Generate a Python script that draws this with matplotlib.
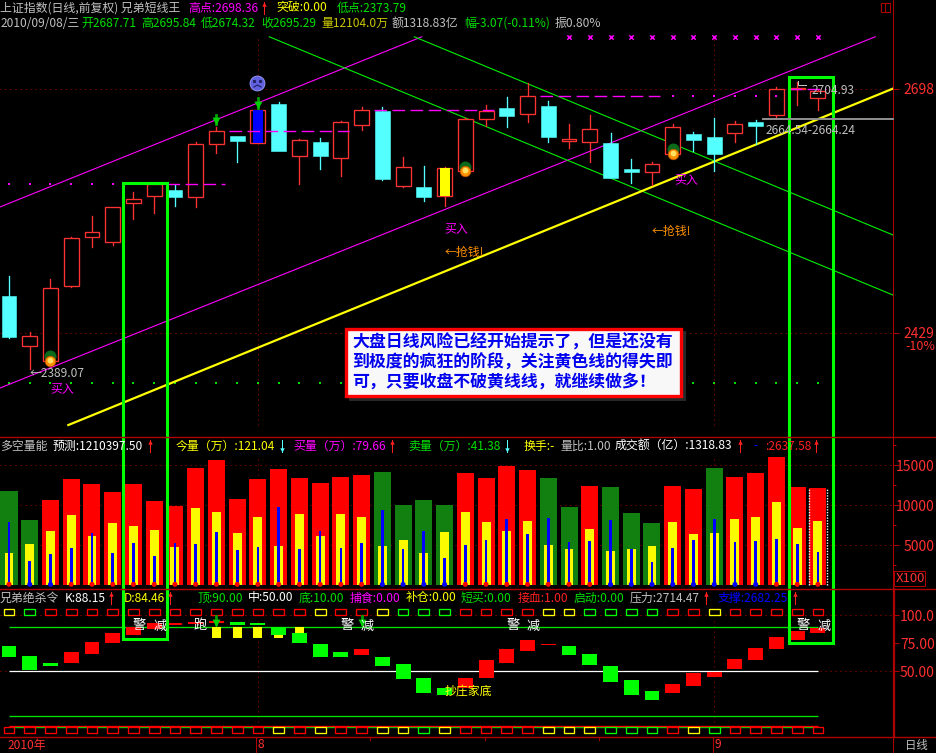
import matplotlib
matplotlib.use("Agg")
import matplotlib.pyplot as plt
from matplotlib.patches import Rectangle

plt.rcParams['font.family'] = ['Noto Sans CJK SC', 'DejaVu Sans']

# daily candles, 上证指数
opens = [2469.2, 2414.4, 2397.9, 2480.6, 2533.9, 2529.1, 2571.4, 2579.8, 2586.1, 2578.0,
         2637.1, 2645.6, 2638.2, 2680.9, 2623.9, 2639.0, 2621.7, 2657.8, 2673.5, 2590.8,
         2589.4, 2579.8, 2607.0, 2664.7, 2676.5, 2670.2, 2678.7, 2640.1, 2639.3, 2637.9,
         2609.2, 2606.3, 2625.8, 2647.8, 2644.5, 2649.0, 2661.1, 2669.1, 2697.4, 2687.71]
closes = [2424.4, 2424.8, 2477.7, 2532.8, 2539.4, 2567.0, 2575.8, 2592.4, 2578.7, 2636.5,
          2650.8, 2640.1, 2674.0, 2629.1, 2640.9, 2623.6, 2660.7, 2674.0, 2598.2, 2611.1,
          2578.4, 2610.0, 2664.0, 2673.5, 2667.7, 2689.4, 2644.5, 2642.0, 2653.0, 2599.3,
          2605.9, 2614.4, 2655.2, 2641.2, 2625.8, 2658.5, 2656.7, 2697.1, 2698.5, 2695.29]
highs = [2491.3, 2429.2, 2487.6, 2534.3, 2557.4, 2567.0, 2583.9, 2592.4, 2591.6, 2638.7,
         2655.9, 2645.6, 2674.0, 2683.1, 2642.3, 2643.4, 2662.2, 2677.6, 2677.6, 2622.5,
         2612.5, 2611.1, 2665.1, 2679.8, 2688.6, 2703.7, 2684.2, 2658.9, 2668.8, 2648.9,
         2620.3, 2617.0, 2658.9, 2650.0, 2665.5, 2662.2, 2663.3, 2699.6, 2704.93, 2695.84]
lows = [2423.3, 2389.07, 2397.0, 2479.5, 2523.6, 2525.5, 2554.1, 2560.4, 2568.8, 2567.7,
        2627.2, 2617.3, 2637.6, 2629.1, 2593.0, 2609.6, 2601.9, 2652.2, 2597.1, 2589.7,
        2574.0, 2568.5, 2606.0, 2656.7, 2655.6, 2661.1, 2639.0, 2632.4, 2617.0, 2599.3,
        2593.8, 2591.6, 2625.8, 2629.1, 2607.0, 2639.0, 2636.8, 2665.5, 2679.8, 2674.32]

# stop levels drawn as dashes / dots
level_runs = [(8, 10, 2592.4), (11, 16, 2650.8), (18, 23, 2674.0), (26, 31, 2689.4), (38, 39, 2698.0)]
level_dots = [(0, 7, 2592.4), (32, 37, 2689.4)]
low_line = 2373.79
cross_level = 2755.0
cross_bars = list(range(27, 40))
ball_bars = [2, 22, 32]
ball_prices = [2398, 2607, 2626]
arrow_bars = [10, 12]
blue_fill_bar = 12
yellow_fill_bar = 21

# trend lines (bar index, price)
yellow_line = ([2.86, 42.63], [2327, 2698])
magenta_up = ([-0.434, 19.9], [2567.4, 2755])
magenta_low = ([-0.434, 41.76], [2367.8, 2755])
green_a = ([12.55, 42.62], [2755, 2470.3])
green_b = ([19.54, 42.62], [2755, 2536.5])

# volume pane
vol_total = [11787, 8162, 10662, 13287, 12662, 11662, 12662, 10537, 9912, 14662,
             15662, 10787, 13287, 14537, 13412, 12787, 13537, 13787, 14162, 10037,
             10662, 10037, 14037, 13412, 14912, 14412, 13412, 9787, 12412, 12287,
             9037, 7787, 12412, 12037, 14662, 13537, 14037, 16037, 12287, 12104]
vol_colors = ['g', 'g', 'r', 'r', 'r', 'r', 'r', 'r', 'r', 'r',
              'r', 'r', 'r', 'r', 'r', 'r', 'r', 'r', 'g', 'g',
              'g', 'g', 'r', 'r', 'r', 'r', 'g', 'g', 'r', 'g',
              'g', 'g', 'r', 'r', 'g', 'r', 'r', 'r', 'r', 'r']
vol_buy = [4037, 5162, 6787, 8787, 6162, 7787, 7412, 6912, 4787, 9662,
           9162, 6537, 8537, 4912, 8912, 6162, 8912, 8537, 4912, 5662,
           4037, 6662, 9162, 7912, 6787, 8037, 5037, 4537, 7037, 4287,
           4537, 4912, 7912, 6412, 6537, 8287, 8537, 10412, 7162, 8037]
vol_sell = [7912, 3037, 3912, 4662, 6537, 4037, 5287, 3662, 5287, 5162,
            6662, 4412, 4787, 9787, 4537, 6787, 4662, 5287, 9412, 4537,
            6787, 3412, 5037, 5662, 8287, 6412, 8412, 5412, 5537, 8162,
            4537, 2912, 4662, 5662, 8287, 5412, 5537, 5787, 5162, 4162]
dot_colors = ['r', 'b', 'b', 'r', 'r', 'r', 'r', 'r', 'r', 'r',
              'r', 'r', 'r', 'r', 'r', 'r', 'r', 'r', 'b', 'b',
              'b', 'b', 'r', 'r', 'r', 'r', 'r', 'r', 'r', 'b',
              'b', 'b', 'b', 'b', 'b', 'b', 'b', 'r', 'r', 'r']

# KD pane, floating bars
kd_top = [72.6, 63.7, 57.4, 67.2, 76.2, 84.2, 89.6, 93.1, 93.1, 94.0,
          94.9, 94.0, 93.1, 89.6, 84.2, 74.4, 67.2, 69.9, 62.8, 56.5,
          44.0, 35.1, 44.0, 60.1, 69.9, 77.9, 74.4, 72.6, 65.4, 54.7,
          42.2, 32.4, 38.7, 48.5, 49.4, 61.0, 70.8, 80.6, 86.0, 88.6]
kd_bot = [62.8, 51.2, 54.7, 57.4, 65.4, 75.3, 82.4, 87.8, 91.3, 92.2,
          93.1, 91.3, 91.3, 82.4, 75.3, 62.8, 62.8, 64.5, 54.7, 43.1,
          30.6, 28.8, 35.1, 44.0, 57.4, 68.1, 73.8, 64.5, 55.6, 40.4,
          28.8, 24.4, 30.6, 36.9, 44.9, 52.1, 60.1, 69.9, 78.0, 84.2]
kd_colors = ['g', 'g', 'g', 'r', 'r', 'r', 'r', 'r', 'r', 'r',
             'r', 'g', 'g', 'g', 'g', 'g', 'g', 'r', 'g', 'g',
             'g', 'g', 'r', 'r', 'r', 'r', 'r', 'g', 'g', 'g',
             'g', 'g', 'r', 'r', 'r', 'r', 'r', 'r', 'r', 'r']
warn_bars = [10, 11, 12, 13, 14]
warn_top = [89.6, 89.6, 89.6, 82.4, 89.6]
warn_bot = [79.7, 79.7, 79.7, 79.7, 84.2]
kd_arrows = [10, 17]

top_row = ['y', 'g', 'r', 'r', 'r', 'r', 'r', 'r', 'r', 'r',
           'r', 'r', 'r', 'r', 'r', 'y', 'r', 'r', 'y', 'g',
           'g', 'g', 'r', 'r', 'r', 'r', 'y', 'y', 'g', 'g',
           'g', 'g', 'r', 'r', 'y', 'r', 'r', 'r', 'r', 'r']
bottom_row = ['r', 'r', 'r', 'r', 'r', 'r', 'r', 'r', 'r', 'r',
              'r', 'r', 'r', 'y', 'r', 'y', 'r', 'r', 'y', 'y',
              'g', 'y', 'r', 'r', 'r', 'r', 'y', 'y', 'y', 'g',
              'g', 'g', 'r', 'y', 'g', 'r', 'r', 'r', 'r', 'r']

W, H = 937, 753
AXIS = '#b00000'
LABEL = '#ff3030'
RED = '#ff3232'
CYAN = '#54ffff'
GRID = (0, (1, 4))
PX = 0.72  # one pixel line width at dpi 100
EDGE = 0.95  # candle and square outlines, a bit stronger
palette = {'r': '#ff0000', 'g': '#00ff00', 'y': '#ffff00', 'b': '#0000ff'}

fig = plt.figure(figsize=(W / 100, H / 100), dpi=100, facecolor='black')


def pane(top, bottom, ylim):
    ax = fig.add_axes([0, 1 - bottom / H, 893 / W, (bottom - top) / H], facecolor='black')
    ax.set_xlim(-0.434, 42.62)
    ax.set_ylim(*ylim)
    ax.set_xticks([])
    for s in ax.spines.values():
        s.set_visible(False)
    ax.tick_params(axis='y', left=False, labelleft=False, right=True, labelright=True,
                   labelcolor=LABEL, length=4.3, width=PX, pad=25.7, labelsize=10, color=AXIS)
    return ax


ax_k = pane(0, 437, (2313.8, 2795.57))
ax_v = pane(437, 589, (-462, 18537))
ax_d = pane(589, 737, (-8.66, 123.5))

# ---- candles
ax_k.hlines([2698, 2429], -0.434, 42.62, colors=AXIS, linestyles=GRID, lw=PX)
ax_k.vlines([12, 34], 2327, 2755, colors=AXIS, linestyles=GRID, lw=PX)
for x, y in [magenta_up, magenta_low]:
    ax_k.plot(x, y, color='#ff00ff', lw=0.8)
for x, y in [green_a, green_b]:
    ax_k.plot(x, y, color='#00f000', lw=0.8)
ax_k.plot(yellow_line[0], yellow_line[1], color='#ffff00', lw=1.6)

for i in range(len(opens)):
    up = closes[i] >= opens[i]
    c = RED if up else CYAN
    lo_body, hi_body = min(opens[i], closes[i]), max(opens[i], closes[i])
    ax_k.plot([i, i], [hi_body, highs[i]], color=c, lw=EDGE, zorder=3)
    ax_k.plot([i, i], [lows[i], lo_body], color=c, lw=EDGE, zorder=3)
    if up:
        ax_k.add_patch(Rectangle((i - 0.36, lo_body), 0.72, hi_body - lo_body, fc='black', ec=c, lw=EDGE, zorder=3))
    else:
        ax_k.add_patch(Rectangle((i - 0.36, lo_body), 0.72, hi_body - lo_body, fc=c, ec=c, lw=0.4, zorder=3))

for i, col in [(blue_fill_bar, '#0000ff'), (yellow_fill_bar, '#ffff00')]:
    ax_k.add_patch(Rectangle((i - 0.24, closes[i]), 0.48, opens[i] - closes[i], fc=col, ec='none', zorder=4))

for a, b, lev in level_runs:
    ax_k.plot([a - 0.4, b + 0.4], [lev, lev], color='#ff00ff', lw=1, dashes=(9, 4), zorder=5)
for a, b, lev in level_dots:
    ax_k.scatter(range(a, b + 1), [lev] * (b - a + 1), s=0.7, color='#ff00ff', marker='s', lw=0, zorder=5)
ax_k.scatter(range(len(opens)), [low_line] * len(opens), s=0.7, color='#00e000', marker='s', lw=0)
ax_k.scatter(cross_bars, [cross_level] * len(cross_bars), s=10, color='#ff00ff', marker='x', lw=1.1, zorder=5)
ax_k.scatter(ball_bars, [y + 5 for y in ball_prices], s=58, color='#0b6b1a', zorder=6)
ax_k.scatter(ball_bars, ball_prices, s=58, color='#ff9000', edgecolors='#c05000', lw=0.5, zorder=7)
ax_k.scatter(ball_bars, [y + 1 for y in ball_prices], s=10, color='#ffe060', zorder=8)
for i in arrow_bars:
    ax_k.plot([i, i], [highs[i] + 3, highs[i] + 13], color='#00a000', lw=2, zorder=6)
ax_k.scatter(arrow_bars, [highs[i] + 6 for i in arrow_bars], s=32, color='#00d000', marker='v', lw=0, zorder=6)
ax_k.set_yticks([2698, 2429], ['2698', '2429'], ha='right')

# ---- volume
ax_v.hlines([15000, 10000, 5000], -0.434, 42.62, colors=AXIS, linestyles=GRID, lw=PX, zorder=0)
ax_v.vlines([12, 34], 0, 16000, colors=AXIS, linestyles=GRID, lw=PX, zorder=0)
x_all = list(range(len(vol_total)))
ax_v.bar(x_all, vol_total, width=0.82, color=['#ff0000' if c == 'r' else '#118011' for c in vol_colors], zorder=2)
ax_v.bar(x_all, vol_buy, width=0.43, color='#fbfb00', zorder=3)
ax_v.bar(x_all, vol_sell, width=0.13, color='#0000ff', zorder=4)
ax_v.scatter(x_all, [120] * len(x_all), s=13, color=[palette[c] for c in dot_colors], lw=0, zorder=5)
ax_v.vlines([39 - 0.43, 39 + 0.43], 0, vol_total[39], colors='white', linestyles=(0, (1, 1)), lw=1, zorder=6)
ax_v.set_yticks([5000, 10000, 15000], ['5000', '10000', '15000'], ha='right')
ax_v.set_yticks([2500, 7500, 12500, 17500], minor=True)
ax_v.tick_params(axis='y', which='minor', left=False, right=True, length=2.2, width=PX, color=AXIS)

# ---- KD
ax_d.hlines([100], -0.434, 42.62, colors=AXIS, linestyles=GRID, lw=PX, zorder=0)
ax_d.hlines([50], -0.434, 42.62, colors=AXIS, linestyles=GRID, lw=PX, zorder=0)
ax_d.vlines([12, 34], 0, 95, colors=AXIS, linestyles=GRID, lw=PX, zorder=0)
ax_d.hlines([90, 10, 0], 0, 39, colors='#00e000', lw=EDGE, zorder=1)
ax_d.hlines([50], 0, 39, colors='white', lw=0.9, zorder=1)
ax_d.hlines([1.2], 0, 39, colors='#ff0000', lw=EDGE, zorder=1)
ax_d.bar(warn_bars, [t - b for t, b in zip(warn_top, warn_bot)], bottom=warn_bot, width=0.43, color='#ffff00', zorder=2)
ax_d.bar(x_all, [t - b for t, b in zip(kd_top, kd_bot)], bottom=kd_bot, width=0.72,
         color=[palette[c] for c in kd_colors], zorder=3)
ax_d.bar(x_all, [5.4] * 40, bottom=100, width=0.52, fc='black', ec=[palette[c] for c in top_row], lw=EDGE, zorder=4)
ax_d.bar(x_all, [5.4] * 40, bottom=-5.4, width=0.52, fc='black', ec=[palette[c] for c in bottom_row], lw=EDGE, zorder=4)
for i in kd_arrows:
    ax_d.plot([i, i], [92, 99], color='#00a000', lw=2, zorder=6)
ax_d.scatter(kd_arrows, [93] * len(kd_arrows), s=32, color='#00d000', marker='v', lw=0, zorder=6)
ax_d.set_yticks([100, 75, 50], ['100.0', '75.00', '50.00'], ha='right')

# ---- overlay in screen pixels for frames and text
ov = fig.add_axes([0, 0, 1, 1], facecolor='none', zorder=10)
ov.set_xlim(0, W)
ov.set_ylim(H, 0)
ov.axis('off')

for y in [437, 589, 737]:
    ov.plot([0, W], [y, y], color=AXIS, lw=1)
ov.plot([893.3, 893.3], [0, 737], color=AXIS, lw=PX)
ov.plot([893.8, 893.8], [589, 737], color=AXIS, lw=1.6)
ov.plot([893.3, 893.3], [737, 753], color=AXIS, lw=PX)
for x in [256.5, 713.5]:
    ov.plot([x, x], [737, 753], color=AXIS, lw=PX)
for x in [370, 485, 599]:
    ov.plot([x, x], [737, 740], color=AXIS, lw=PX)
ov.add_patch(Rectangle((881, 3), 9, 9, fc='none', ec=AXIS, lw=PX))
ov.plot([885.5, 885.5], [3, 12], color=AXIS, lw=PX)
ov.add_patch(Rectangle((894.5, 571), 31, 15, fc='none', ec=AXIS, lw=PX))
ov.plot([763, 893], [118.7, 118.7], color='#909090', lw=1.4)


def label(x, y, s, color='#c0c0c0', size=8.6, **kw):
    ov.text(x, y, s, color=color, fontsize=size, va='center', ha=kw.pop('ha', 'left'), **kw)


def arrow(x, y, color='#ff2020', up=True):
    ov.plot([x, x], [y - 6, y + 6], color=color, lw=PX)
    ov.plot([x], [y - 4 if up else y + 4], marker='^' if up else 'v', color=color, ms=3.2, mew=0)


GREEN = '#00e000'
label(0, 8, '上证指数(日线,前复权) 兄弟短线王')
label(188, 8, '高点:2698.36', '#ff00ff')
arrow(264, 8)
label(276, 8, '突破:0.00', '#ffff00')
label(337, 8, '低点:2373.79', GREEN)
label(1, 23, '2010/09/08/三')
label(81, 23, '开2687.71', GREEN)
label(141, 23, '高2695.84', GREEN)
label(201, 23, '低2674.32', GREEN)
label(261, 23, '收2695.29', GREEN)
label(321, 23, '量12104.0万', '#c8c800')
label(392, 23, '额1318.83亿')
label(464, 23, '幅-3.07(-0.11%)', GREEN)
label(555, 23, '振0.80%')

label(812, 90, '2704.93')
label(766, 130, '2664.54-2664.24')
label(30, 373, '←2389.07')
label(50, 389, '买入', '#ff00ff')
label(444, 229, '买入', '#ff00ff')
label(674, 180, '买入', '#ff00ff')
label(445, 252, '←抢钱!', '#ff9000')
label(652, 231, '←抢钱!', '#ff9000')
ov.plot([798, 798, 806], [81, 85, 85], color='#c0c0c0', lw=PX)
label(935, 346, '-10%', LABEL, 9, ha='right')

# volume pane headers
y = 446
label(0, y, '多空量能')
label(53, y, '预测:1210397.50', 'white')
arrow(150, y)
label(176, y, '今量（万）:121.04', '#ffff00')
arrow(282, y, CYAN, up=False)
label(293, y, '买量（万）:79.66', '#ff00ff')
arrow(392, y)
label(408, y, '卖量（万）:41.38', GREEN)
arrow(507, y, CYAN, up=False)
label(524, y, '换手:-', '#ffff00')
label(560, y, '量比:1.00')
label(615, y, '成交额（亿）:1318.83', 'white')
arrow(740, y)
label(753, y, '-', '#0000ff')
label(765, y, ':2637.58', '#ff2020')
arrow(816, y)
label(896, 578.5, 'X100', LABEL, 9.5)

# KD pane headers
y = 598
label(0, y, '兄弟绝杀令')
label(65, y, 'K:88.15', 'white')
arrow(111, y)
label(124, y, 'D:84.46', '#ffff00')
arrow(170, y)
label(197, y, '顶:90.00', GREEN)
label(248, y, '中:50.00', 'white')
label(299, y, '底:10.00', GREEN)
label(350, y, '捕食:0.00', '#ff00ff')
label(406, y, '补仓:0.00', '#ffff00')
label(461, y, '短买:0.00', GREEN)
label(518, y, '接血:1.00', '#ff2020')
label(574, y, '启动:0.00', GREEN)
label(630, y, '压力:2714.47')
arrow(706, y)
label(718, y, '支撑:2682.25', '#0000ff')
arrow(795, y)

for x, s in [(133, '警'), (154, '减'), (194, '跑'), (341, '警'), (361, '减'),
             (507, '警'), (527, '减'), (797, '警'), (818, '减')]:
    label(x, 626, s, 'white', 9.5)
label(445, 692.5, '抄庄家底', '#ffff00', 8.6)

label(8, 745, '2010年', LABEL, 8.6)
label(258, 745, '8', LABEL, 8.6)
label(715, 745, '9', LABEL, 8.6)
label(905, 745, '日线', '#c0c0c0', 8.2)

# sad face marker above the blue candle
ov.scatter([257.5], [83], s=115, color='#6060e0', edgecolors='#a0a0ff', lw=0.6)
ov.plot([254.5, 260.5], [81, 81], ls='none', marker='s', ms=1.2, color='#202060')
ov.plot([254, 257.5, 261], [87, 85, 87], color='#202060', lw=0.8)

# annotation box
ov.add_patch(Rectangle((349, 331), 337, 70, fc='#282828', ec='none'))
ov.add_patch(Rectangle((346.5, 328.5), 335, 67, fc='#f8f8f8', ec='#ff0000', lw=2.4))
note = ['大盘日线风险已经开始提示了，但是还没有', '到极度的疯狂的阶段，关注黄色线的得失即', '可，只要收盘不破黄线线，就继续做多！']
for n, line in zip([343, 362.5, 381.5], note):
    ov.text(352, n, line, color='#0000ee', fontsize=12.2, fontweight='bold', va='center', ha='left')

# green frames drawn last, as in the reference
ov.add_patch(Rectangle((123.5, 183), 43.5, 456, fc='none', ec='#00ff00', lw=2.2))
ov.add_patch(Rectangle((789.5, 76.5), 44, 566, fc='none', ec='#00ff00', lw=2.2))

fig.savefig('out.png', dpi=100, facecolor='black')
